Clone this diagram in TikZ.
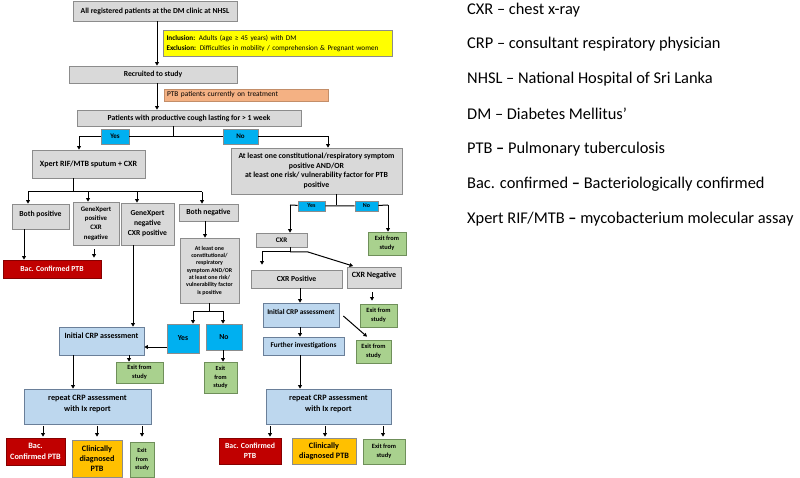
\documentclass[tikz,border=0pt]{standalone}
\usepackage{fontspec}
\setmainfont{Carlito}
\usetikzlibrary{arrows.meta}
\definecolor{boxgray}{HTML}{D9D9D9}
\definecolor{linegray}{HTML}{8C8C8C}
\definecolor{incyellow}{HTML}{FFFF00}
\definecolor{txpeach}{HTML}{F4B183}
\definecolor{yncyan}{HTML}{00B0F0}
\definecolor{crpblue}{HTML}{BDD7EE}
\definecolor{crpline}{HTML}{6A7F99}
\definecolor{exitgreen}{HTML}{A9D18E}
\definecolor{exitline}{HTML}{6F8F5A}
\definecolor{bacred}{HTML}{C00000}
\definecolor{clingold}{HTML}{FFC000}
\begin{document}
\begin{tikzpicture}[x=1pt,y=-1pt,
    every node/.style={inner sep=1pt, align=center},
    bx/.style={draw=linegray, line width=0.7pt, font=\bfseries\fontsize{7.7}{9}\selectfont},
    gbx/.style={bx, fill=boxgray},
    ybx/.style={bx, fill=incyellow, font=\fontsize{7.2}{10}\selectfont},
    obx/.style={bx, draw=txpeach!80!black, fill=txpeach, font=\fontsize{7.4}{8}\selectfont},
    cbx/.style={bx, fill=yncyan},
    bbx/.style={bx, draw=crpline, fill=crpblue},
    grbx/.style={bx, draw=exitline, fill=exitgreen, font=\bfseries\fontsize{6.4}{8.8}\selectfont},
    rbx/.style={bx, draw=bacred!70!black, fill=bacred, text=white},
    gdbx/.style={bx, fill=clingold, font=\bfseries\fontsize{8.2}{10}\selectfont},
    lgd/.style={anchor=west, inner sep=0pt, font=\fontsize{16.4}{19}\selectfont},
    ln/.style={line width=1pt},
    arr/.style={line width=1pt, -{Triangle[length=3.5pt,width=3.8pt]}}]
\useasboundingbox (0,0) rectangle (800,478);

% left column, top part
\node[gbx, minimum width=164, minimum height=20] (reg) at (155,11) {All registered patients at the DM clinic at NHSL};
\node[ybx, minimum width=229, minimum height=26, align=left, text width=222] (incl) at (277.5,43) {\textbf{Inclusion:} Adults (age ≥ 45 years) with DM\\ \textbf{Exclusion:} Difficulties in mobility / comprehension \& Pregnant women};
\node[gbx, minimum width=168, minimum height=17] (recr) at (153,74.5) {Recruited to study};
\node[obx, minimum width=164, minimum height=12, align=left, text width=158] (ptbtx) at (246,95) {PTB patients currently on treatment};
\node[gbx, minimum width=224, minimum height=16] (cough) at (189,118) {Patients with productive cough lasting for > 1 week};
\node[cbx, minimum width=28, minimum height=15, font=\bfseries\fontsize{7}{8}\selectfont] (yes1) at (115,136.5) {Yes};
\node[cbx, minimum width=35, minimum height=15, font=\bfseries\fontsize{7}{8}\selectfont] (no1) at (240.5,136.5) {No};

% Xpert branch
\node[gbx, minimum width=113, minimum height=28, font=\bfseries\fontsize{8}{9}\selectfont] (xpert) at (88.5,164) {Xpert RIF/MTB sputum + CXR};
\node[gbx, minimum width=57, minimum height=25, text depth=5pt] (bothpos) at (40.5,216.5) {Both positive};
\node[gbx, minimum width=46, minimum height=43, font=\bfseries\fontsize{6.8}{9.3}\selectfont] (gxpos) at (96,223.5) {GeneXpert\\ positive\\ CXR\\ negative};
\node[gbx, minimum width=53, minimum height=42, font=\bfseries\fontsize{7.6}{10}\selectfont] (gxneg) at (147.5,224) {GeneXpert\\ negative\\ CXR positive};
\node[gbx, minimum width=59, minimum height=17] (bothneg) at (208.5,212.5) {Both negative};
\node[rbx, minimum width=98, minimum height=18] (bac1) at (52,269) {Bac. Confirmed PTB};
\node[gbx, minimum width=59, minimum height=65, font=\bfseries\fontsize{5.9}{7.3}\selectfont] (symp2) at (209.5,270.5) {At least one\\ constitutional/\\ respiratory\\ symptom AND/OR\\ at least one risk/\\ vulnerability factor\\ is positive};
\node[cbx, minimum width=32, minimum height=29] (yes2) at (183,338.5) {Yes};
\node[cbx, minimum width=36, minimum height=26] (no2) at (224,337) {No};
\node[bbx, minimum width=85, minimum height=28, text depth=10pt, font=\bfseries\fontsize{8}{9}\selectfont] (crp1) at (101.5,341) {Initial CRP assessment};
\node[grbx, minimum width=47, minimum height=21] (exit1) at (139.5,372.5) {Exit from\\ study};
\node[grbx, minimum width=33, minimum height=31, font=\bfseries\fontsize{6.2}{8.5}\selectfont] (exit2) at (220.5,377.5) {Exit\\ from\\ study};
\node[bbx, minimum width=127, minimum height=35, text depth=6pt, font=\bfseries\fontsize{8.2}{11}\selectfont] (rep1) at (87.5,406.5) {repeat CRP assessment\\ with Ix report};
\node[rbx, minimum width=59, minimum height=27, font=\bfseries\fontsize{8.2}{10.5}\selectfont] (bac2) at (35.5,451.5) {Bac.\\ Confirmed PTB};
\node[gdbx, minimum width=50, minimum height=37] (clin1) at (97,458.5) {Clinically\\ diagnosed\\ PTB};
\node[grbx, minimum width=24, minimum height=35, font=\bfseries\fontsize{6}{8.5}\selectfont] (exit3) at (142,459.5) {Exit\\ from\\ study};

% symptom branch
\node[gbx, minimum width=171, minimum height=46, font=\bfseries\fontsize{7.8}{9.6}\selectfont] (symp) at (316.5,171) {At least one constitutional/respiratory symptom\\ positive AND/OR\\ at least one risk/ vulnerability factor for PTB\\ positive};
\node[cbx, minimum width=27, minimum height=10, font=\bfseries\fontsize{6}{6}\selectfont] (yes3) at (311.5,206) {Yes};
\node[cbx, minimum width=23, minimum height=10, font=\bfseries\fontsize{6}{6}\selectfont] (no3) at (366.5,206) {No};
\node[gbx, minimum width=51, minimum height=14, font=\bfseries\fontsize{7}{7}\selectfont] (cxr) at (281.5,240) {CXR};
\node[grbx, minimum width=38, minimum height=23] (exit4) at (387,243.5) {Exit from\\ study};
\node[gbx, minimum width=91, minimum height=18] (cxrpos) at (296.5,279) {CXR Positive};
\node[gbx, minimum width=54, minimum height=21, text depth=5pt, font=\bfseries\fontsize{8}{9}\selectfont] (cxrneg) at (374,277.5) {CXR Negative};
\node[bbx, minimum width=76, minimum height=24, font=\bfseries\fontsize{7.3}{8}\selectfont, text depth=7pt] (crp2) at (301,315) {Initial CRP assessment};
\node[grbx, minimum width=37, minimum height=23] (exit5) at (378.5,315.5) {Exit from\\ study};
\node[grbx, minimum width=35, minimum height=23] (exit6) at (373.5,351.5) {Exit from\\ study};
\node[bbx, minimum width=81, minimum height=18, font=\bfseries\fontsize{7.3}{8}\selectfont] (further) at (303.5,346) {Further investigations};
\node[bbx, minimum width=125, minimum height=35, text depth=6pt, font=\bfseries\fontsize{8.2}{11}\selectfont] (rep2) at (328.5,406.5) {repeat CRP assessment\\ with Ix report};
\node[rbx, minimum width=62, minimum height=26, font=\bfseries\fontsize{7.8}{10}\selectfont] (bac3) at (250,451) {Bac. Confirmed\\ PTB};
\node[gdbx, minimum width=64, minimum height=26, font=\bfseries\fontsize{8.2}{10}\selectfont] (clin2) at (324,451) {Clinically\\ diagnosed PTB};
\node[grbx, minimum width=42, minimum height=25] (exit7) at (384,451.5) {Exit from\\ study};

% legend
\node[lgd] (lgcxr) at (467,10) {CXR – chest x-ray};
\node[lgd] (lgcrp) at (467,44) {CRP – consultant respiratory physician};
\node[lgd] (lgnhsl) at (467,79) {NHSL – National Hospital of Sri Lanka};
\node[lgd] (lgdm) at (467,114) {DM – Diabetes Mellitus’};
\node[lgd] (lgptb) at (467,149) {PTB \textbf{–} Pulmonary tuberculosis};
\node[lgd] (lgbac) at (467,184) {Bac. confirmed \textbf{–} Bacteriologically confirmed};
\node[lgd] (lgxpert) at (467,219) {Xpert RIF/MTB \textbf{–} mycobacterium molecular assay};

% junctions
\coordinate (j1) at (173,137);
\coordinate (j2) at (73,192);
\coordinate (b1) at (28,192);
\coordinate (b2) at (88,192);
\coordinate (b3) at (137,192);
\coordinate (b4) at (202,192);
\coordinate (j3) at (209.5,311);
\coordinate (s1) at (193,311);
\coordinate (s2) at (223,311);
\coordinate (j4) at (336,205);
\coordinate (r1) at (290,205);
\coordinate (r2) at (388,205);
\coordinate (j5) at (290,252);
\coordinate (j6) at (308,252);

% connectors, top
\draw[arr] ([xshift=2pt]reg.south) -- ([xshift=4pt]recr.north);
\draw[arr] ([xshift=4pt]recr.south) -- ([xshift=-32pt]cough.north);
\draw[ln] (cough.south -| j1) -- (j1);
\draw[ln] (yes1) -- (no1);
\draw[arr] (yes1) -| ([xshift=-9.5pt]xpert.north);
\draw[arr] (no1) -| ([xshift=11.5pt]symp.north);

% connectors, Xpert branch
\draw[ln] ([xshift=-15.5pt]xpert.south) -- (j2);
\draw[ln] (b1) -- (b4);
\foreach \c/\n in {b1/bothpos, b2/gxpos, b3/gxneg, b4/bothneg}
    \draw[arr] (\c) -- (\c |- \n.north);
\draw[arr] ([xshift=-16.5pt]bothpos.south) -- ([xshift=-28pt]bac1.north);
\draw[arr, shorten <=4pt, shorten >=2pt] ([xshift=-2pt]gxpos.south) -- ([xshift=42pt]bac1.north);
\draw[arr] ([xshift=-14.5pt]gxneg.south) -- ([xshift=31.5pt]crp1.north);
\draw[arr] ([xshift=-3.5pt]bothneg.south) -- ([xshift=-4.5pt]symp2.north);
\draw[ln] (symp2.south) -- (j3);
\draw[ln] (s1) -- (s2);
\draw[arr] (s1) -- (s1 |- yes2.north);
\draw[arr] (s2) -- (s2 |- no2.north);
\draw[arr] ([yshift=-8.5pt]yes2.west) -- ([yshift=-6pt]crp1.east);
\draw[arr] ([xshift=27.5pt]crp1.south) -- ([xshift=-10.5pt]exit1.north);
\draw[arr] ([xshift=-1pt]no2.south) -- ([xshift=2.5pt]exit2.north);
\draw[arr] ([xshift=-28.5pt]crp1.south) -- ([xshift=-14.5pt]rep1.north);
\draw[arr, shorten <=2pt, shorten >=1pt] ([xshift=-44.5pt]rep1.south) -- ([xshift=7.5pt]bac2.north);
\draw[arr, shorten <=2pt, shorten >=3pt] ([xshift=9.5pt]rep1.south) -- (clin1.north);
\draw[arr, shorten <=2pt, shorten >=5pt] ([xshift=54.5pt]rep1.south) -- (exit3.north);

% connectors, symptom branch
\draw[ln] ([xshift=19.5pt]symp.south) -- (j4);
\draw[ln] (r1) -- (yes3) (yes3) -- (no3) (no3) -- (r2);
\draw[arr] (r1) -- (r1 |- cxr.north);
\draw[arr] (r2) -- (r2 |- exit4.north);
\draw[ln] ([xshift=8.5pt]cxr.south) -- (j5);
\draw[arr, shorten >=5pt] (j5) -| ([xshift=-34.5pt]cxrpos.north);
\draw[arr, shorten >=2pt] (j5) -- (j6) -- ([xshift=-19pt]cxrneg.north);
\draw[arr] ([xshift=3.5pt]cxrpos.south) -- ([xshift=-1pt]crp2.north);
\draw[arr, shorten <=4pt, shorten >=3pt] ([xshift=-2pt]cxrneg.south) -- ([xshift=-6.5pt]exit5.north);
\draw[arr] ([xshift=4pt,yshift=-1pt]crp2.east) -- ([xshift=-6.5pt,yshift=3pt]exit6.north);
\draw[arr] ([xshift=-1pt]crp2.south) -- ([xshift=-3.5pt]further.north);
\draw[arr] ([xshift=-3.5pt]further.south) -- ([xshift=-28.5pt]rep2.north);
\draw[arr, shorten <=2pt, shorten >=1pt] ([xshift=-58.5pt]rep2.south) -- ([xshift=20pt]bac3.north);
\draw[arr, shorten <=2pt, shorten >=1pt] ([xshift=-3.5pt]rep2.south) -- ([xshift=1pt]clin2.north);
\draw[arr, shorten <=2pt, shorten >=2pt] ([xshift=54.5pt]rep2.south) -- ([xshift=-1pt]exit7.north);
\end{tikzpicture}
\end{document}
